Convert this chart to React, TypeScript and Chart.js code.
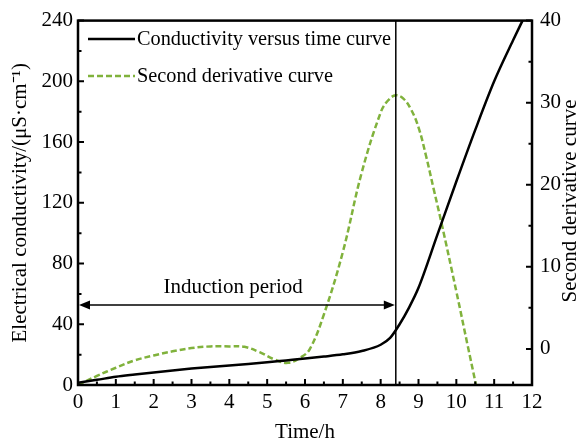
import React, { useEffect, useRef } from "react";
import { Chart, registerables } from "chart.js";

Chart.register(...registerables);

const timeCond = [0, 0.5, 1, 1.5, 2, 2.5, 3, 3.5, 4, 4.5, 5, 5.5, 6, 6.5, 7, 7.5, 8, 8.25, 8.5, 8.75, 9, 9.5, 10, 10.5, 11, 11.5, 11.75];
const conductivity = [1.5, 3.4, 5.4, 6.9, 8.3, 9.6, 10.8, 11.9, 12.9, 13.9, 15, 16.2, 17.4, 18.7, 20.2, 22.4, 26.5, 31, 40, 51, 64, 99, 134, 168, 200, 227, 240];

const timeDeriv = [0, 0.5, 1, 1.5, 2, 2.5, 3, 3.5, 4, 4.4, 4.8, 5.2, 5.55, 5.9, 6.13, 6.5, 7, 7.5, 8, 8.2, 8.4, 8.6, 8.8, 9, 9.2, 9.4, 9.6, 10, 10.3, 10.52];
const secondDeriv = [-4.4, -3.3, -2.3, -1.4, -0.8, -0.3, 0.1, 0.3, 0.3, 0.25, -0.4, -1.3, -1.7, -1.0, 0, 4.2, 11.8, 21.5, 28.8, 30.3, 30.9, 30.5, 29.2, 27.0, 23.5, 19.5, 15.5, 7, 0.4, -4.4];

const xTicks = [0, 1, 2, 3, 4, 5, 6, 7, 8, 9, 10, 11, 12];
const leftTicks = [0, 40, 80, 120, 160, 200, 240];
const rightTicks = [0, 10, 20, 30, 40];

const inductionEnd = 8.4;
const arrowLevel = 52.7;
const labelX = 4.1;

const seriesNames = ["Conductivity versus time curve", "Second derivative curve"];
const xTitle = "Time/h";
const leftTitle = "Electrical conductivity/(μS·cm⁻¹)";
const rightTitle = "Second derivative curve";
const annotationText = "Induction period";

const FONT = "'Liberation Serif', 'Times New Roman', serif";
const FS = 21;
const LEG_FS = 20.3;
const GREEN = "#80b23c";

const overlayPlugin = {
  id: "overlay",
  afterDraw(chart: any) {
    const ctx = chart.ctx;
    const ca = chart.chartArea;
    const xs = chart.scales.x;
    const yl = chart.scales.y;
    const yr = chart.scales.y2;
    ctx.save();

    // vertical line
    const vx = xs.getPixelForValue(inductionEnd);
    ctx.strokeStyle = "#000";
    ctx.lineWidth = 1.5;
    ctx.beginPath();
    ctx.moveTo(vx, ca.top);
    ctx.lineTo(vx, ca.bottom);
    ctx.stroke();

    // arrow
    const ay = yl.getPixelForValue(arrowLevel);
    const ax0 = xs.getPixelForValue(0);
    const ax1 = vx;
    const ah = 12, aw = 4.5;
    ctx.lineWidth = 1.5;
    ctx.beginPath();
    ctx.moveTo(ax0 + ah - 1, ay);
    ctx.lineTo(ax1 - ah + 1, ay);
    ctx.stroke();
    ctx.fillStyle = "#000";
    ctx.beginPath();
    ctx.moveTo(ax0 + 1, ay);
    ctx.lineTo(ax0 + ah, ay - aw);
    ctx.lineTo(ax0 + ah, ay + aw);
    ctx.closePath();
    ctx.fill();
    ctx.beginPath();
    ctx.moveTo(ax1 - 1, ay);
    ctx.lineTo(ax1 - ah, ay - aw);
    ctx.lineTo(ax1 - ah, ay + aw);
    ctx.closePath();
    ctx.fill();

    ctx.font = `${FS}px ${FONT}`;
    ctx.textAlign = "center";
    ctx.textBaseline = "middle";
    ctx.fillText(annotationText, xs.getPixelForValue(labelX), ay - 17);

    // frame
    ctx.lineWidth = 2.5;
    ctx.strokeRect(ca.left, ca.top, ca.right - ca.left, ca.bottom - ca.top);

    // ticks
    ctx.lineWidth = 2;
    const major = 6, minor = 3.5;
    ctx.beginPath();
    for (let v = 0; v <= 12.001; v += 0.5) {
      const px = xs.getPixelForValue(v);
      const len = Math.abs(v - Math.round(v)) < 1e-6 ? major : minor;
      ctx.moveTo(px, ca.bottom);
      ctx.lineTo(px, ca.bottom - len);
    }
    for (let v = 0; v <= 240.001; v += 20) {
      const py = yl.getPixelForValue(v);
      const len = v % 40 === 0 ? major : minor;
      ctx.moveTo(ca.left, py);
      ctx.lineTo(ca.left + len, py);
    }
    for (let v = 0; v <= 40.001; v += 5) {
      const py = yr.getPixelForValue(v);
      const len = v % 10 === 0 ? major : minor;
      ctx.moveTo(ca.right, py);
      ctx.lineTo(ca.right - len, py);
    }
    ctx.stroke();

    // titles
    ctx.fillStyle = "#000";
    ctx.font = `${FS}px ${FONT}`;
    ctx.textAlign = "center";
    ctx.textBaseline = "middle";
    ctx.fillText(xTitle, (ca.left + ca.right) / 2, 432);
    const cy = (ca.top + ca.bottom) / 2;
    ctx.save();
    ctx.translate(20, cy);
    ctx.rotate(-Math.PI / 2);
    ctx.fillText(leftTitle, 0, 0);
    ctx.restore();
    ctx.save();
    ctx.translate(570, 201);
    ctx.rotate(-Math.PI / 2);
    ctx.fillText(rightTitle, 0, 0);
    ctx.restore();

    // legend
    ctx.font = `${LEG_FS}px ${FONT}`;
    ctx.textAlign = "left";
    ctx.lineWidth = 2.5;
    ctx.strokeStyle = "#000";
    ctx.beginPath();
    ctx.moveTo(88, 39);
    ctx.lineTo(135, 39);
    ctx.stroke();
    ctx.fillText(seriesNames[0], 137, 40);
    ctx.strokeStyle = GREEN;
    ctx.setLineDash([6, 3]);
    ctx.beginPath();
    ctx.moveTo(88, 76);
    ctx.lineTo(135, 76);
    ctx.stroke();
    ctx.setLineDash([]);
    ctx.fillText(seriesNames[1], 137, 77);

    ctx.restore();
  },
};

export default function App() {
  const ref = useRef<HTMLCanvasElement>(null);
  useEffect(() => {
    document.body.style.margin = "0";
    const canvas = ref.current!;
    const tickFont = { family: FONT, size: FS };
    const chart = new Chart(canvas, {
      type: "line",
      data: {
        datasets: [
          {
            label: seriesNames[0],
            data: timeCond.map((t, i) => ({ x: t, y: conductivity[i] })),
            borderColor: "#000",
            borderWidth: 2.5,
            pointRadius: 0,
            cubicInterpolationMode: "monotone",
            yAxisID: "y",
          },
          {
            label: seriesNames[1],
            data: timeDeriv.map((t, i) => ({ x: t, y: secondDeriv[i] })),
            borderColor: GREEN,
            borderWidth: 2.5,
            borderDash: [6, 3],
            pointRadius: 0,
            tension: 0.4,
            yAxisID: "y2",
          },
        ],
      },
      options: {
        animation: false,
        responsive: false,
        devicePixelRatio: 1,
        layout: { padding: { top: 20, left: 0, right: 0, bottom: 0 } },
        plugins: { legend: { display: false }, tooltip: { enabled: false } },
        scales: {
          x: {
            type: "linear",
            min: 0,
            max: 12,
            afterBuildTicks: (s: any) => { s.ticks = xTicks.map((v) => ({ value: v })); },
            afterFit: (s: any) => { s.height = 56; },
            grid: { display: false, drawTicks: false },
            border: { display: false },
            ticks: { font: tickFont, color: "#000", padding: 5, maxRotation: 0, autoSkip: false },
          },
          y: {
            type: "linear",
            position: "left",
            min: 0,
            max: 240,
            afterBuildTicks: (s: any) => { s.ticks = leftTicks.map((v) => ({ value: v })); },
            afterFit: (s: any) => { s.width = 78; },
            grid: { display: false, drawTicks: false },
            border: { display: false },
            ticks: { font: tickFont, color: "#000", padding: 5 },
          },
          y2: {
            type: "linear",
            position: "right",
            min: -4.4,
            max: 40,
            afterBuildTicks: (s: any) => { s.ticks = rightTicks.map((v) => ({ value: v })); },
            afterFit: (s: any) => { s.width = 50; },
            grid: { display: false, drawTicks: false },
            border: { display: false },
            ticks: { font: tickFont, color: "#000", padding: 8 },
          },
        },
      },
      plugins: [overlayPlugin],
    } as any);
    return () => chart.destroy();
  }, []);
  return (
    <div style={{ width: 582, height: 441 }}>
      <canvas ref={ref} width={582} height={441} />
    </div>
  );
}
